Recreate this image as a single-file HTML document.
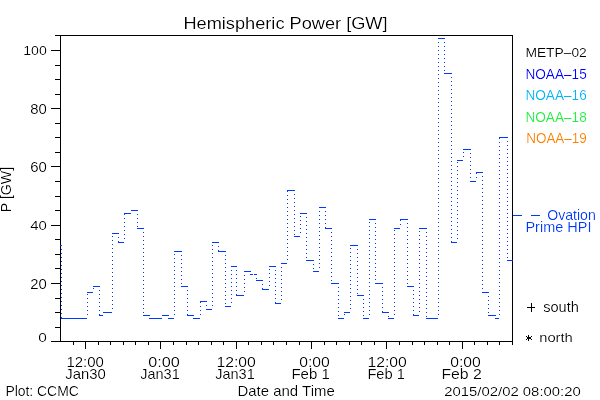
<!DOCTYPE html>
<html><head><meta charset="utf-8"><style>
html,body{margin:0;padding:0;background:#fff;}
svg{display:block;}
text{font-family:"Liberation Sans",sans-serif;}
</style></head><body>
<svg width="600" height="400" viewBox="0 0 600 400">
<rect x="0" y="0" width="600" height="400" fill="#fff"/>
<g fill="#000" shape-rendering="crispEdges"><rect x="60" y="35" width="453" height="1"/><rect x="60" y="341" width="453" height="1"/><rect x="60" y="35" width="1" height="307"/><rect x="512" y="35" width="1" height="307"/><rect x="51" y="341" width="9" height="1"/><rect x="55" y="327" width="5" height="1"/><rect x="55" y="312" width="5" height="1"/><rect x="55" y="298" width="5" height="1"/><rect x="51" y="283" width="9" height="1"/><rect x="55" y="268" width="5" height="1"/><rect x="55" y="254" width="5" height="1"/><rect x="55" y="239" width="5" height="1"/><rect x="51" y="225" width="9" height="1"/><rect x="55" y="210" width="5" height="1"/><rect x="55" y="196" width="5" height="1"/><rect x="55" y="181" width="5" height="1"/><rect x="51" y="166" width="9" height="1"/><rect x="55" y="152" width="5" height="1"/><rect x="55" y="137" width="5" height="1"/><rect x="55" y="123" width="5" height="1"/><rect x="51" y="108" width="9" height="1"/><rect x="55" y="94" width="5" height="1"/><rect x="55" y="79" width="5" height="1"/><rect x="55" y="65" width="5" height="1"/><rect x="51" y="50" width="9" height="1"/><rect x="55" y="35" width="5" height="1"/><rect x="73" y="342" width="1" height="3"/><rect x="85" y="342" width="1" height="7"/><rect x="98" y="342" width="1" height="3"/><rect x="110" y="342" width="1" height="3"/><rect x="123" y="342" width="1" height="3"/><rect x="135" y="342" width="1" height="3"/><rect x="148" y="342" width="1" height="3"/><rect x="160" y="342" width="1" height="7"/><rect x="173" y="342" width="1" height="3"/><rect x="186" y="342" width="1" height="3"/><rect x="198" y="342" width="1" height="3"/><rect x="211" y="342" width="1" height="3"/><rect x="223" y="342" width="1" height="3"/><rect x="236" y="342" width="1" height="7"/><rect x="248" y="342" width="1" height="3"/><rect x="261" y="342" width="1" height="3"/><rect x="273" y="342" width="1" height="3"/><rect x="286" y="342" width="1" height="3"/><rect x="299" y="342" width="1" height="3"/><rect x="311" y="342" width="1" height="7"/><rect x="324" y="342" width="1" height="3"/><rect x="336" y="342" width="1" height="3"/><rect x="349" y="342" width="1" height="3"/><rect x="361" y="342" width="1" height="3"/><rect x="374" y="342" width="1" height="3"/><rect x="386" y="342" width="1" height="7"/><rect x="399" y="342" width="1" height="3"/><rect x="412" y="342" width="1" height="3"/><rect x="424" y="342" width="1" height="3"/><rect x="437" y="342" width="1" height="3"/><rect x="449" y="342" width="1" height="3"/><rect x="462" y="342" width="1" height="7"/><rect x="474" y="342" width="1" height="3"/><rect x="487" y="342" width="1" height="3"/><rect x="499" y="342" width="1" height="3"/><rect x="512" y="342" width="1" height="3"/></g>
<g fill="#0038ff" shape-rendering="crispEdges"><rect x="60" y="245" width="1" height="1"/><rect x="61" y="245" width="1" height="1"/><rect x="61" y="249" width="1" height="1"/><rect x="61" y="253" width="1" height="1"/><rect x="61" y="257" width="1" height="1"/><rect x="61" y="261" width="1" height="1"/><rect x="61" y="265" width="1" height="1"/><rect x="61" y="269" width="1" height="1"/><rect x="61" y="273" width="1" height="1"/><rect x="61" y="277" width="1" height="1"/><rect x="61" y="281" width="1" height="1"/><rect x="61" y="285" width="1" height="1"/><rect x="61" y="289" width="1" height="1"/><rect x="61" y="293" width="1" height="1"/><rect x="61" y="297" width="1" height="1"/><rect x="61" y="301" width="1" height="1"/><rect x="61" y="305" width="1" height="1"/><rect x="61" y="309" width="1" height="1"/><rect x="61" y="313" width="1" height="1"/><rect x="61" y="317" width="1" height="1"/><rect x="61" y="318" width="26" height="1"/><rect x="87" y="314" width="1" height="1"/><rect x="87" y="310" width="1" height="1"/><rect x="87" y="306" width="1" height="1"/><rect x="87" y="302" width="1" height="1"/><rect x="87" y="298" width="1" height="1"/><rect x="87" y="294" width="1" height="1"/><rect x="87" y="292" width="6" height="1"/><rect x="93" y="288" width="1" height="1"/><rect x="93" y="286" width="6" height="1"/><rect x="99" y="286" width="1" height="1"/><rect x="99" y="290" width="1" height="1"/><rect x="99" y="294" width="1" height="1"/><rect x="99" y="298" width="1" height="1"/><rect x="99" y="302" width="1" height="1"/><rect x="99" y="306" width="1" height="1"/><rect x="99" y="310" width="1" height="1"/><rect x="99" y="314" width="1" height="1"/><rect x="99" y="315" width="4" height="1"/><rect x="103" y="312" width="9" height="1"/><rect x="112" y="308" width="1" height="1"/><rect x="112" y="304" width="1" height="1"/><rect x="112" y="300" width="1" height="1"/><rect x="112" y="296" width="1" height="1"/><rect x="112" y="292" width="1" height="1"/><rect x="112" y="288" width="1" height="1"/><rect x="112" y="284" width="1" height="1"/><rect x="112" y="280" width="1" height="1"/><rect x="112" y="276" width="1" height="1"/><rect x="112" y="272" width="1" height="1"/><rect x="112" y="268" width="1" height="1"/><rect x="112" y="264" width="1" height="1"/><rect x="112" y="260" width="1" height="1"/><rect x="112" y="256" width="1" height="1"/><rect x="112" y="252" width="1" height="1"/><rect x="112" y="248" width="1" height="1"/><rect x="112" y="244" width="1" height="1"/><rect x="112" y="240" width="1" height="1"/><rect x="112" y="236" width="1" height="1"/><rect x="112" y="233" width="6" height="1"/><rect x="118" y="233" width="1" height="1"/><rect x="118" y="237" width="1" height="1"/><rect x="118" y="241" width="1" height="1"/><rect x="118" y="242" width="6" height="1"/><rect x="124" y="238" width="1" height="1"/><rect x="124" y="234" width="1" height="1"/><rect x="124" y="230" width="1" height="1"/><rect x="124" y="226" width="1" height="1"/><rect x="124" y="222" width="1" height="1"/><rect x="124" y="218" width="1" height="1"/><rect x="124" y="214" width="1" height="1"/><rect x="124" y="213" width="7" height="1"/><rect x="131" y="210" width="6" height="1"/><rect x="137" y="210" width="1" height="1"/><rect x="137" y="214" width="1" height="1"/><rect x="137" y="218" width="1" height="1"/><rect x="137" y="222" width="1" height="1"/><rect x="137" y="226" width="1" height="1"/><rect x="137" y="228" width="6" height="1"/><rect x="143" y="228" width="1" height="1"/><rect x="143" y="232" width="1" height="1"/><rect x="143" y="236" width="1" height="1"/><rect x="143" y="240" width="1" height="1"/><rect x="143" y="244" width="1" height="1"/><rect x="143" y="248" width="1" height="1"/><rect x="143" y="252" width="1" height="1"/><rect x="143" y="256" width="1" height="1"/><rect x="143" y="260" width="1" height="1"/><rect x="143" y="264" width="1" height="1"/><rect x="143" y="268" width="1" height="1"/><rect x="143" y="272" width="1" height="1"/><rect x="143" y="276" width="1" height="1"/><rect x="143" y="280" width="1" height="1"/><rect x="143" y="284" width="1" height="1"/><rect x="143" y="288" width="1" height="1"/><rect x="143" y="292" width="1" height="1"/><rect x="143" y="296" width="1" height="1"/><rect x="143" y="300" width="1" height="1"/><rect x="143" y="304" width="1" height="1"/><rect x="143" y="308" width="1" height="1"/><rect x="143" y="312" width="1" height="1"/><rect x="143" y="315" width="6" height="1"/><rect x="149" y="315" width="1" height="1"/><rect x="149" y="318" width="13" height="1"/><rect x="162" y="315" width="6" height="1"/><rect x="168" y="315" width="1" height="1"/><rect x="168" y="318" width="6" height="1"/><rect x="174" y="314" width="1" height="1"/><rect x="174" y="310" width="1" height="1"/><rect x="174" y="306" width="1" height="1"/><rect x="174" y="302" width="1" height="1"/><rect x="174" y="298" width="1" height="1"/><rect x="174" y="294" width="1" height="1"/><rect x="174" y="290" width="1" height="1"/><rect x="174" y="286" width="1" height="1"/><rect x="174" y="282" width="1" height="1"/><rect x="174" y="278" width="1" height="1"/><rect x="174" y="274" width="1" height="1"/><rect x="174" y="270" width="1" height="1"/><rect x="174" y="266" width="1" height="1"/><rect x="174" y="262" width="1" height="1"/><rect x="174" y="258" width="1" height="1"/><rect x="174" y="254" width="1" height="1"/><rect x="174" y="251" width="7" height="1"/><rect x="181" y="251" width="1" height="1"/><rect x="181" y="255" width="1" height="1"/><rect x="181" y="259" width="1" height="1"/><rect x="181" y="263" width="1" height="1"/><rect x="181" y="267" width="1" height="1"/><rect x="181" y="271" width="1" height="1"/><rect x="181" y="275" width="1" height="1"/><rect x="181" y="279" width="1" height="1"/><rect x="181" y="283" width="1" height="1"/><rect x="181" y="286" width="6" height="1"/><rect x="187" y="286" width="1" height="1"/><rect x="187" y="290" width="1" height="1"/><rect x="187" y="294" width="1" height="1"/><rect x="187" y="298" width="1" height="1"/><rect x="187" y="302" width="1" height="1"/><rect x="187" y="306" width="1" height="1"/><rect x="187" y="310" width="1" height="1"/><rect x="187" y="314" width="1" height="1"/><rect x="187" y="315" width="6" height="1"/><rect x="193" y="315" width="1" height="1"/><rect x="193" y="318" width="7" height="1"/><rect x="200" y="314" width="1" height="1"/><rect x="200" y="310" width="1" height="1"/><rect x="200" y="306" width="1" height="1"/><rect x="200" y="302" width="1" height="1"/><rect x="200" y="301" width="6" height="1"/><rect x="206" y="301" width="1" height="1"/><rect x="206" y="305" width="1" height="1"/><rect x="206" y="309" width="6" height="1"/><rect x="212" y="305" width="1" height="1"/><rect x="212" y="301" width="1" height="1"/><rect x="212" y="297" width="1" height="1"/><rect x="212" y="293" width="1" height="1"/><rect x="212" y="289" width="1" height="1"/><rect x="212" y="285" width="1" height="1"/><rect x="212" y="281" width="1" height="1"/><rect x="212" y="277" width="1" height="1"/><rect x="212" y="273" width="1" height="1"/><rect x="212" y="269" width="1" height="1"/><rect x="212" y="265" width="1" height="1"/><rect x="212" y="261" width="1" height="1"/><rect x="212" y="257" width="1" height="1"/><rect x="212" y="253" width="1" height="1"/><rect x="212" y="249" width="1" height="1"/><rect x="212" y="245" width="1" height="1"/><rect x="212" y="242" width="6" height="1"/><rect x="218" y="242" width="1" height="1"/><rect x="218" y="246" width="1" height="1"/><rect x="218" y="250" width="1" height="1"/><rect x="218" y="251" width="7" height="1"/><rect x="225" y="251" width="1" height="1"/><rect x="225" y="255" width="1" height="1"/><rect x="225" y="259" width="1" height="1"/><rect x="225" y="263" width="1" height="1"/><rect x="225" y="267" width="1" height="1"/><rect x="225" y="271" width="1" height="1"/><rect x="225" y="275" width="1" height="1"/><rect x="225" y="279" width="1" height="1"/><rect x="225" y="283" width="1" height="1"/><rect x="225" y="287" width="1" height="1"/><rect x="225" y="291" width="1" height="1"/><rect x="225" y="295" width="1" height="1"/><rect x="225" y="299" width="1" height="1"/><rect x="225" y="303" width="1" height="1"/><rect x="225" y="306" width="6" height="1"/><rect x="231" y="302" width="1" height="1"/><rect x="231" y="298" width="1" height="1"/><rect x="231" y="294" width="1" height="1"/><rect x="231" y="290" width="1" height="1"/><rect x="231" y="286" width="1" height="1"/><rect x="231" y="282" width="1" height="1"/><rect x="231" y="278" width="1" height="1"/><rect x="231" y="274" width="1" height="1"/><rect x="231" y="270" width="1" height="1"/><rect x="231" y="266" width="5" height="1"/><rect x="236" y="266" width="1" height="1"/><rect x="236" y="270" width="1" height="1"/><rect x="236" y="274" width="1" height="1"/><rect x="236" y="278" width="1" height="1"/><rect x="236" y="282" width="1" height="1"/><rect x="236" y="286" width="1" height="1"/><rect x="236" y="290" width="1" height="1"/><rect x="236" y="294" width="1" height="1"/><rect x="236" y="295" width="8" height="1"/><rect x="244" y="291" width="1" height="1"/><rect x="244" y="287" width="1" height="1"/><rect x="244" y="283" width="1" height="1"/><rect x="244" y="279" width="1" height="1"/><rect x="244" y="275" width="1" height="1"/><rect x="244" y="271" width="6" height="1"/><rect x="250" y="271" width="1" height="1"/><rect x="250" y="274" width="6" height="1"/><rect x="256" y="274" width="1" height="1"/><rect x="256" y="278" width="1" height="1"/><rect x="256" y="280" width="6" height="1"/><rect x="262" y="280" width="1" height="1"/><rect x="262" y="284" width="1" height="1"/><rect x="262" y="288" width="1" height="1"/><rect x="262" y="289" width="7" height="1"/><rect x="269" y="285" width="1" height="1"/><rect x="269" y="281" width="1" height="1"/><rect x="269" y="277" width="1" height="1"/><rect x="269" y="273" width="1" height="1"/><rect x="269" y="269" width="1" height="1"/><rect x="269" y="266" width="6" height="1"/><rect x="275" y="266" width="1" height="1"/><rect x="275" y="270" width="1" height="1"/><rect x="275" y="274" width="1" height="1"/><rect x="275" y="278" width="1" height="1"/><rect x="275" y="282" width="1" height="1"/><rect x="275" y="286" width="1" height="1"/><rect x="275" y="290" width="1" height="1"/><rect x="275" y="294" width="1" height="1"/><rect x="275" y="298" width="1" height="1"/><rect x="275" y="302" width="1" height="1"/><rect x="275" y="303" width="6" height="1"/><rect x="281" y="299" width="1" height="1"/><rect x="281" y="295" width="1" height="1"/><rect x="281" y="291" width="1" height="1"/><rect x="281" y="287" width="1" height="1"/><rect x="281" y="283" width="1" height="1"/><rect x="281" y="279" width="1" height="1"/><rect x="281" y="275" width="1" height="1"/><rect x="281" y="271" width="1" height="1"/><rect x="281" y="267" width="1" height="1"/><rect x="281" y="263" width="6" height="1"/><rect x="287" y="259" width="1" height="1"/><rect x="287" y="255" width="1" height="1"/><rect x="287" y="251" width="1" height="1"/><rect x="287" y="247" width="1" height="1"/><rect x="287" y="243" width="1" height="1"/><rect x="287" y="239" width="1" height="1"/><rect x="287" y="235" width="1" height="1"/><rect x="287" y="231" width="1" height="1"/><rect x="287" y="227" width="1" height="1"/><rect x="287" y="223" width="1" height="1"/><rect x="287" y="219" width="1" height="1"/><rect x="287" y="215" width="1" height="1"/><rect x="287" y="211" width="1" height="1"/><rect x="287" y="207" width="1" height="1"/><rect x="287" y="203" width="1" height="1"/><rect x="287" y="199" width="1" height="1"/><rect x="287" y="195" width="1" height="1"/><rect x="287" y="191" width="1" height="1"/><rect x="287" y="190" width="7" height="1"/><rect x="294" y="190" width="1" height="1"/><rect x="294" y="194" width="1" height="1"/><rect x="294" y="198" width="1" height="1"/><rect x="294" y="202" width="1" height="1"/><rect x="294" y="206" width="1" height="1"/><rect x="294" y="210" width="1" height="1"/><rect x="294" y="214" width="1" height="1"/><rect x="294" y="218" width="1" height="1"/><rect x="294" y="222" width="1" height="1"/><rect x="294" y="226" width="1" height="1"/><rect x="294" y="230" width="1" height="1"/><rect x="294" y="234" width="1" height="1"/><rect x="294" y="236" width="6" height="1"/><rect x="300" y="232" width="1" height="1"/><rect x="300" y="228" width="1" height="1"/><rect x="300" y="224" width="1" height="1"/><rect x="300" y="220" width="1" height="1"/><rect x="300" y="216" width="1" height="1"/><rect x="300" y="213" width="6" height="1"/><rect x="306" y="213" width="1" height="1"/><rect x="306" y="217" width="1" height="1"/><rect x="306" y="221" width="1" height="1"/><rect x="306" y="225" width="1" height="1"/><rect x="306" y="229" width="1" height="1"/><rect x="306" y="233" width="1" height="1"/><rect x="306" y="237" width="1" height="1"/><rect x="306" y="241" width="1" height="1"/><rect x="306" y="245" width="1" height="1"/><rect x="306" y="249" width="1" height="1"/><rect x="306" y="253" width="1" height="1"/><rect x="306" y="257" width="1" height="1"/><rect x="306" y="260" width="7" height="1"/><rect x="313" y="260" width="1" height="1"/><rect x="313" y="264" width="1" height="1"/><rect x="313" y="268" width="1" height="1"/><rect x="313" y="271" width="6" height="1"/><rect x="319" y="267" width="1" height="1"/><rect x="319" y="263" width="1" height="1"/><rect x="319" y="259" width="1" height="1"/><rect x="319" y="255" width="1" height="1"/><rect x="319" y="251" width="1" height="1"/><rect x="319" y="247" width="1" height="1"/><rect x="319" y="243" width="1" height="1"/><rect x="319" y="239" width="1" height="1"/><rect x="319" y="235" width="1" height="1"/><rect x="319" y="231" width="1" height="1"/><rect x="319" y="227" width="1" height="1"/><rect x="319" y="223" width="1" height="1"/><rect x="319" y="219" width="1" height="1"/><rect x="319" y="215" width="1" height="1"/><rect x="319" y="211" width="1" height="1"/><rect x="319" y="207" width="6" height="1"/><rect x="325" y="207" width="1" height="1"/><rect x="325" y="211" width="1" height="1"/><rect x="325" y="215" width="1" height="1"/><rect x="325" y="219" width="1" height="1"/><rect x="325" y="223" width="1" height="1"/><rect x="325" y="227" width="1" height="1"/><rect x="325" y="228" width="6" height="1"/><rect x="331" y="228" width="1" height="1"/><rect x="331" y="232" width="1" height="1"/><rect x="331" y="236" width="1" height="1"/><rect x="331" y="240" width="1" height="1"/><rect x="331" y="244" width="1" height="1"/><rect x="331" y="248" width="1" height="1"/><rect x="331" y="252" width="1" height="1"/><rect x="331" y="256" width="1" height="1"/><rect x="331" y="260" width="1" height="1"/><rect x="331" y="264" width="1" height="1"/><rect x="331" y="268" width="1" height="1"/><rect x="331" y="272" width="1" height="1"/><rect x="331" y="276" width="1" height="1"/><rect x="331" y="280" width="1" height="1"/><rect x="331" y="283" width="7" height="1"/><rect x="338" y="283" width="1" height="1"/><rect x="338" y="287" width="1" height="1"/><rect x="338" y="291" width="1" height="1"/><rect x="338" y="295" width="1" height="1"/><rect x="338" y="299" width="1" height="1"/><rect x="338" y="303" width="1" height="1"/><rect x="338" y="307" width="1" height="1"/><rect x="338" y="311" width="1" height="1"/><rect x="338" y="315" width="1" height="1"/><rect x="338" y="318" width="6" height="1"/><rect x="344" y="314" width="1" height="1"/><rect x="344" y="312" width="6" height="1"/><rect x="350" y="308" width="1" height="1"/><rect x="350" y="304" width="1" height="1"/><rect x="350" y="300" width="1" height="1"/><rect x="350" y="296" width="1" height="1"/><rect x="350" y="292" width="1" height="1"/><rect x="350" y="288" width="1" height="1"/><rect x="350" y="284" width="1" height="1"/><rect x="350" y="280" width="1" height="1"/><rect x="350" y="276" width="1" height="1"/><rect x="350" y="272" width="1" height="1"/><rect x="350" y="268" width="1" height="1"/><rect x="350" y="264" width="1" height="1"/><rect x="350" y="260" width="1" height="1"/><rect x="350" y="256" width="1" height="1"/><rect x="350" y="252" width="1" height="1"/><rect x="350" y="248" width="1" height="1"/><rect x="350" y="245" width="7" height="1"/><rect x="357" y="245" width="1" height="1"/><rect x="357" y="249" width="1" height="1"/><rect x="357" y="253" width="1" height="1"/><rect x="357" y="257" width="1" height="1"/><rect x="357" y="261" width="1" height="1"/><rect x="357" y="265" width="1" height="1"/><rect x="357" y="269" width="1" height="1"/><rect x="357" y="273" width="1" height="1"/><rect x="357" y="277" width="1" height="1"/><rect x="357" y="281" width="1" height="1"/><rect x="357" y="285" width="1" height="1"/><rect x="357" y="289" width="1" height="1"/><rect x="357" y="293" width="1" height="1"/><rect x="357" y="295" width="6" height="1"/><rect x="363" y="295" width="1" height="1"/><rect x="363" y="299" width="1" height="1"/><rect x="363" y="303" width="1" height="1"/><rect x="363" y="307" width="1" height="1"/><rect x="363" y="311" width="1" height="1"/><rect x="363" y="315" width="1" height="1"/><rect x="363" y="318" width="6" height="1"/><rect x="369" y="314" width="1" height="1"/><rect x="369" y="310" width="1" height="1"/><rect x="369" y="306" width="1" height="1"/><rect x="369" y="302" width="1" height="1"/><rect x="369" y="298" width="1" height="1"/><rect x="369" y="294" width="1" height="1"/><rect x="369" y="290" width="1" height="1"/><rect x="369" y="286" width="1" height="1"/><rect x="369" y="282" width="1" height="1"/><rect x="369" y="278" width="1" height="1"/><rect x="369" y="274" width="1" height="1"/><rect x="369" y="270" width="1" height="1"/><rect x="369" y="266" width="1" height="1"/><rect x="369" y="262" width="1" height="1"/><rect x="369" y="258" width="1" height="1"/><rect x="369" y="254" width="1" height="1"/><rect x="369" y="250" width="1" height="1"/><rect x="369" y="246" width="1" height="1"/><rect x="369" y="242" width="1" height="1"/><rect x="369" y="238" width="1" height="1"/><rect x="369" y="234" width="1" height="1"/><rect x="369" y="230" width="1" height="1"/><rect x="369" y="226" width="1" height="1"/><rect x="369" y="222" width="1" height="1"/><rect x="369" y="219" width="6" height="1"/><rect x="375" y="219" width="1" height="1"/><rect x="375" y="223" width="1" height="1"/><rect x="375" y="227" width="1" height="1"/><rect x="375" y="231" width="1" height="1"/><rect x="375" y="235" width="1" height="1"/><rect x="375" y="239" width="1" height="1"/><rect x="375" y="243" width="1" height="1"/><rect x="375" y="247" width="1" height="1"/><rect x="375" y="251" width="1" height="1"/><rect x="375" y="255" width="1" height="1"/><rect x="375" y="259" width="1" height="1"/><rect x="375" y="263" width="1" height="1"/><rect x="375" y="267" width="1" height="1"/><rect x="375" y="271" width="1" height="1"/><rect x="375" y="275" width="1" height="1"/><rect x="375" y="279" width="1" height="1"/><rect x="375" y="283" width="7" height="1"/><rect x="382" y="283" width="1" height="1"/><rect x="382" y="287" width="1" height="1"/><rect x="382" y="291" width="1" height="1"/><rect x="382" y="295" width="1" height="1"/><rect x="382" y="299" width="1" height="1"/><rect x="382" y="303" width="1" height="1"/><rect x="382" y="307" width="1" height="1"/><rect x="382" y="311" width="1" height="1"/><rect x="382" y="312" width="6" height="1"/><rect x="388" y="312" width="1" height="1"/><rect x="388" y="316" width="1" height="1"/><rect x="388" y="318" width="6" height="1"/><rect x="394" y="314" width="1" height="1"/><rect x="394" y="310" width="1" height="1"/><rect x="394" y="306" width="1" height="1"/><rect x="394" y="302" width="1" height="1"/><rect x="394" y="298" width="1" height="1"/><rect x="394" y="294" width="1" height="1"/><rect x="394" y="290" width="1" height="1"/><rect x="394" y="286" width="1" height="1"/><rect x="394" y="282" width="1" height="1"/><rect x="394" y="278" width="1" height="1"/><rect x="394" y="274" width="1" height="1"/><rect x="394" y="270" width="1" height="1"/><rect x="394" y="266" width="1" height="1"/><rect x="394" y="262" width="1" height="1"/><rect x="394" y="258" width="1" height="1"/><rect x="394" y="254" width="1" height="1"/><rect x="394" y="250" width="1" height="1"/><rect x="394" y="246" width="1" height="1"/><rect x="394" y="242" width="1" height="1"/><rect x="394" y="238" width="1" height="1"/><rect x="394" y="234" width="1" height="1"/><rect x="394" y="230" width="1" height="1"/><rect x="394" y="228" width="6" height="1"/><rect x="400" y="224" width="1" height="1"/><rect x="400" y="220" width="1" height="1"/><rect x="400" y="219" width="7" height="1"/><rect x="407" y="219" width="1" height="1"/><rect x="407" y="223" width="1" height="1"/><rect x="407" y="227" width="1" height="1"/><rect x="407" y="231" width="1" height="1"/><rect x="407" y="235" width="1" height="1"/><rect x="407" y="239" width="1" height="1"/><rect x="407" y="243" width="1" height="1"/><rect x="407" y="247" width="1" height="1"/><rect x="407" y="251" width="1" height="1"/><rect x="407" y="255" width="1" height="1"/><rect x="407" y="259" width="1" height="1"/><rect x="407" y="263" width="1" height="1"/><rect x="407" y="267" width="1" height="1"/><rect x="407" y="271" width="1" height="1"/><rect x="407" y="275" width="1" height="1"/><rect x="407" y="279" width="1" height="1"/><rect x="407" y="283" width="1" height="1"/><rect x="407" y="286" width="6" height="1"/><rect x="413" y="286" width="1" height="1"/><rect x="413" y="290" width="1" height="1"/><rect x="413" y="294" width="1" height="1"/><rect x="413" y="298" width="1" height="1"/><rect x="413" y="302" width="1" height="1"/><rect x="413" y="306" width="1" height="1"/><rect x="413" y="310" width="1" height="1"/><rect x="413" y="314" width="1" height="1"/><rect x="413" y="315" width="6" height="1"/><rect x="419" y="311" width="1" height="1"/><rect x="419" y="307" width="1" height="1"/><rect x="419" y="303" width="1" height="1"/><rect x="419" y="299" width="1" height="1"/><rect x="419" y="295" width="1" height="1"/><rect x="419" y="291" width="1" height="1"/><rect x="419" y="287" width="1" height="1"/><rect x="419" y="283" width="1" height="1"/><rect x="419" y="279" width="1" height="1"/><rect x="419" y="275" width="1" height="1"/><rect x="419" y="271" width="1" height="1"/><rect x="419" y="267" width="1" height="1"/><rect x="419" y="263" width="1" height="1"/><rect x="419" y="259" width="1" height="1"/><rect x="419" y="255" width="1" height="1"/><rect x="419" y="251" width="1" height="1"/><rect x="419" y="247" width="1" height="1"/><rect x="419" y="243" width="1" height="1"/><rect x="419" y="239" width="1" height="1"/><rect x="419" y="235" width="1" height="1"/><rect x="419" y="231" width="1" height="1"/><rect x="419" y="228" width="7" height="1"/><rect x="426" y="228" width="1" height="1"/><rect x="426" y="232" width="1" height="1"/><rect x="426" y="236" width="1" height="1"/><rect x="426" y="240" width="1" height="1"/><rect x="426" y="244" width="1" height="1"/><rect x="426" y="248" width="1" height="1"/><rect x="426" y="252" width="1" height="1"/><rect x="426" y="256" width="1" height="1"/><rect x="426" y="260" width="1" height="1"/><rect x="426" y="264" width="1" height="1"/><rect x="426" y="268" width="1" height="1"/><rect x="426" y="272" width="1" height="1"/><rect x="426" y="276" width="1" height="1"/><rect x="426" y="280" width="1" height="1"/><rect x="426" y="284" width="1" height="1"/><rect x="426" y="288" width="1" height="1"/><rect x="426" y="292" width="1" height="1"/><rect x="426" y="296" width="1" height="1"/><rect x="426" y="300" width="1" height="1"/><rect x="426" y="304" width="1" height="1"/><rect x="426" y="308" width="1" height="1"/><rect x="426" y="312" width="1" height="1"/><rect x="426" y="316" width="1" height="1"/><rect x="426" y="318" width="12" height="1"/><rect x="438" y="314" width="1" height="1"/><rect x="438" y="310" width="1" height="1"/><rect x="438" y="306" width="1" height="1"/><rect x="438" y="302" width="1" height="1"/><rect x="438" y="298" width="1" height="1"/><rect x="438" y="294" width="1" height="1"/><rect x="438" y="290" width="1" height="1"/><rect x="438" y="286" width="1" height="1"/><rect x="438" y="282" width="1" height="1"/><rect x="438" y="278" width="1" height="1"/><rect x="438" y="274" width="1" height="1"/><rect x="438" y="270" width="1" height="1"/><rect x="438" y="266" width="1" height="1"/><rect x="438" y="262" width="1" height="1"/><rect x="438" y="258" width="1" height="1"/><rect x="438" y="254" width="1" height="1"/><rect x="438" y="250" width="1" height="1"/><rect x="438" y="246" width="1" height="1"/><rect x="438" y="242" width="1" height="1"/><rect x="438" y="238" width="1" height="1"/><rect x="438" y="234" width="1" height="1"/><rect x="438" y="230" width="1" height="1"/><rect x="438" y="226" width="1" height="1"/><rect x="438" y="222" width="1" height="1"/><rect x="438" y="218" width="1" height="1"/><rect x="438" y="214" width="1" height="1"/><rect x="438" y="210" width="1" height="1"/><rect x="438" y="206" width="1" height="1"/><rect x="438" y="202" width="1" height="1"/><rect x="438" y="198" width="1" height="1"/><rect x="438" y="194" width="1" height="1"/><rect x="438" y="190" width="1" height="1"/><rect x="438" y="186" width="1" height="1"/><rect x="438" y="182" width="1" height="1"/><rect x="438" y="178" width="1" height="1"/><rect x="438" y="174" width="1" height="1"/><rect x="438" y="170" width="1" height="1"/><rect x="438" y="166" width="1" height="1"/><rect x="438" y="162" width="1" height="1"/><rect x="438" y="158" width="1" height="1"/><rect x="438" y="154" width="1" height="1"/><rect x="438" y="150" width="1" height="1"/><rect x="438" y="146" width="1" height="1"/><rect x="438" y="142" width="1" height="1"/><rect x="438" y="138" width="1" height="1"/><rect x="438" y="134" width="1" height="1"/><rect x="438" y="130" width="1" height="1"/><rect x="438" y="126" width="1" height="1"/><rect x="438" y="122" width="1" height="1"/><rect x="438" y="118" width="1" height="1"/><rect x="438" y="114" width="1" height="1"/><rect x="438" y="110" width="1" height="1"/><rect x="438" y="106" width="1" height="1"/><rect x="438" y="102" width="1" height="1"/><rect x="438" y="98" width="1" height="1"/><rect x="438" y="94" width="1" height="1"/><rect x="438" y="90" width="1" height="1"/><rect x="438" y="86" width="1" height="1"/><rect x="438" y="82" width="1" height="1"/><rect x="438" y="78" width="1" height="1"/><rect x="438" y="74" width="1" height="1"/><rect x="438" y="70" width="1" height="1"/><rect x="438" y="66" width="1" height="1"/><rect x="438" y="62" width="1" height="1"/><rect x="438" y="58" width="1" height="1"/><rect x="438" y="54" width="1" height="1"/><rect x="438" y="50" width="1" height="1"/><rect x="438" y="46" width="1" height="1"/><rect x="438" y="42" width="1" height="1"/><rect x="438" y="38" width="6" height="1"/><rect x="444" y="38" width="1" height="1"/><rect x="444" y="42" width="1" height="1"/><rect x="444" y="46" width="1" height="1"/><rect x="444" y="50" width="1" height="1"/><rect x="444" y="54" width="1" height="1"/><rect x="444" y="58" width="1" height="1"/><rect x="444" y="62" width="1" height="1"/><rect x="444" y="66" width="1" height="1"/><rect x="444" y="70" width="1" height="1"/><rect x="444" y="73" width="7" height="1"/><rect x="451" y="73" width="1" height="1"/><rect x="451" y="77" width="1" height="1"/><rect x="451" y="81" width="1" height="1"/><rect x="451" y="85" width="1" height="1"/><rect x="451" y="89" width="1" height="1"/><rect x="451" y="93" width="1" height="1"/><rect x="451" y="97" width="1" height="1"/><rect x="451" y="101" width="1" height="1"/><rect x="451" y="105" width="1" height="1"/><rect x="451" y="109" width="1" height="1"/><rect x="451" y="113" width="1" height="1"/><rect x="451" y="117" width="1" height="1"/><rect x="451" y="121" width="1" height="1"/><rect x="451" y="125" width="1" height="1"/><rect x="451" y="129" width="1" height="1"/><rect x="451" y="133" width="1" height="1"/><rect x="451" y="137" width="1" height="1"/><rect x="451" y="141" width="1" height="1"/><rect x="451" y="145" width="1" height="1"/><rect x="451" y="149" width="1" height="1"/><rect x="451" y="153" width="1" height="1"/><rect x="451" y="157" width="1" height="1"/><rect x="451" y="161" width="1" height="1"/><rect x="451" y="165" width="1" height="1"/><rect x="451" y="169" width="1" height="1"/><rect x="451" y="173" width="1" height="1"/><rect x="451" y="177" width="1" height="1"/><rect x="451" y="181" width="1" height="1"/><rect x="451" y="185" width="1" height="1"/><rect x="451" y="189" width="1" height="1"/><rect x="451" y="193" width="1" height="1"/><rect x="451" y="197" width="1" height="1"/><rect x="451" y="201" width="1" height="1"/><rect x="451" y="205" width="1" height="1"/><rect x="451" y="209" width="1" height="1"/><rect x="451" y="213" width="1" height="1"/><rect x="451" y="217" width="1" height="1"/><rect x="451" y="221" width="1" height="1"/><rect x="451" y="225" width="1" height="1"/><rect x="451" y="229" width="1" height="1"/><rect x="451" y="233" width="1" height="1"/><rect x="451" y="237" width="1" height="1"/><rect x="451" y="241" width="1" height="1"/><rect x="451" y="242" width="6" height="1"/><rect x="457" y="238" width="1" height="1"/><rect x="457" y="234" width="1" height="1"/><rect x="457" y="230" width="1" height="1"/><rect x="457" y="226" width="1" height="1"/><rect x="457" y="222" width="1" height="1"/><rect x="457" y="218" width="1" height="1"/><rect x="457" y="214" width="1" height="1"/><rect x="457" y="210" width="1" height="1"/><rect x="457" y="206" width="1" height="1"/><rect x="457" y="202" width="1" height="1"/><rect x="457" y="198" width="1" height="1"/><rect x="457" y="194" width="1" height="1"/><rect x="457" y="190" width="1" height="1"/><rect x="457" y="186" width="1" height="1"/><rect x="457" y="182" width="1" height="1"/><rect x="457" y="178" width="1" height="1"/><rect x="457" y="174" width="1" height="1"/><rect x="457" y="170" width="1" height="1"/><rect x="457" y="166" width="1" height="1"/><rect x="457" y="162" width="1" height="1"/><rect x="457" y="160" width="6" height="1"/><rect x="463" y="156" width="1" height="1"/><rect x="463" y="152" width="1" height="1"/><rect x="463" y="149" width="7" height="1"/><rect x="470" y="149" width="1" height="1"/><rect x="470" y="153" width="1" height="1"/><rect x="470" y="157" width="1" height="1"/><rect x="470" y="161" width="1" height="1"/><rect x="470" y="165" width="1" height="1"/><rect x="470" y="169" width="1" height="1"/><rect x="470" y="173" width="1" height="1"/><rect x="470" y="177" width="1" height="1"/><rect x="470" y="181" width="6" height="1"/><rect x="476" y="177" width="1" height="1"/><rect x="476" y="173" width="1" height="1"/><rect x="476" y="172" width="6" height="1"/><rect x="482" y="172" width="1" height="1"/><rect x="482" y="176" width="1" height="1"/><rect x="482" y="180" width="1" height="1"/><rect x="482" y="184" width="1" height="1"/><rect x="482" y="188" width="1" height="1"/><rect x="482" y="192" width="1" height="1"/><rect x="482" y="196" width="1" height="1"/><rect x="482" y="200" width="1" height="1"/><rect x="482" y="204" width="1" height="1"/><rect x="482" y="208" width="1" height="1"/><rect x="482" y="212" width="1" height="1"/><rect x="482" y="216" width="1" height="1"/><rect x="482" y="220" width="1" height="1"/><rect x="482" y="224" width="1" height="1"/><rect x="482" y="228" width="1" height="1"/><rect x="482" y="232" width="1" height="1"/><rect x="482" y="236" width="1" height="1"/><rect x="482" y="240" width="1" height="1"/><rect x="482" y="244" width="1" height="1"/><rect x="482" y="248" width="1" height="1"/><rect x="482" y="252" width="1" height="1"/><rect x="482" y="256" width="1" height="1"/><rect x="482" y="260" width="1" height="1"/><rect x="482" y="264" width="1" height="1"/><rect x="482" y="268" width="1" height="1"/><rect x="482" y="272" width="1" height="1"/><rect x="482" y="276" width="1" height="1"/><rect x="482" y="280" width="1" height="1"/><rect x="482" y="284" width="1" height="1"/><rect x="482" y="288" width="1" height="1"/><rect x="482" y="292" width="6" height="1"/><rect x="488" y="292" width="1" height="1"/><rect x="488" y="296" width="1" height="1"/><rect x="488" y="300" width="1" height="1"/><rect x="488" y="304" width="1" height="1"/><rect x="488" y="308" width="1" height="1"/><rect x="488" y="312" width="1" height="1"/><rect x="488" y="315" width="7" height="1"/><rect x="495" y="315" width="1" height="1"/><rect x="495" y="318" width="4" height="1"/><rect x="499" y="314" width="1" height="1"/><rect x="499" y="310" width="1" height="1"/><rect x="499" y="306" width="1" height="1"/><rect x="499" y="302" width="1" height="1"/><rect x="499" y="298" width="1" height="1"/><rect x="499" y="294" width="1" height="1"/><rect x="499" y="290" width="1" height="1"/><rect x="499" y="286" width="1" height="1"/><rect x="499" y="282" width="1" height="1"/><rect x="499" y="278" width="1" height="1"/><rect x="499" y="274" width="1" height="1"/><rect x="499" y="270" width="1" height="1"/><rect x="499" y="266" width="1" height="1"/><rect x="499" y="262" width="1" height="1"/><rect x="499" y="258" width="1" height="1"/><rect x="499" y="254" width="1" height="1"/><rect x="499" y="250" width="1" height="1"/><rect x="499" y="246" width="1" height="1"/><rect x="499" y="242" width="1" height="1"/><rect x="499" y="238" width="1" height="1"/><rect x="499" y="234" width="1" height="1"/><rect x="499" y="230" width="1" height="1"/><rect x="499" y="226" width="1" height="1"/><rect x="499" y="222" width="1" height="1"/><rect x="499" y="218" width="1" height="1"/><rect x="499" y="214" width="1" height="1"/><rect x="499" y="210" width="1" height="1"/><rect x="499" y="206" width="1" height="1"/><rect x="499" y="202" width="1" height="1"/><rect x="499" y="198" width="1" height="1"/><rect x="499" y="194" width="1" height="1"/><rect x="499" y="190" width="1" height="1"/><rect x="499" y="186" width="1" height="1"/><rect x="499" y="182" width="1" height="1"/><rect x="499" y="178" width="1" height="1"/><rect x="499" y="174" width="1" height="1"/><rect x="499" y="170" width="1" height="1"/><rect x="499" y="166" width="1" height="1"/><rect x="499" y="162" width="1" height="1"/><rect x="499" y="158" width="1" height="1"/><rect x="499" y="154" width="1" height="1"/><rect x="499" y="150" width="1" height="1"/><rect x="499" y="146" width="1" height="1"/><rect x="499" y="142" width="1" height="1"/><rect x="499" y="138" width="1" height="1"/><rect x="499" y="137" width="8" height="1"/><rect x="507" y="137" width="1" height="1"/><rect x="507" y="141" width="1" height="1"/><rect x="507" y="145" width="1" height="1"/><rect x="507" y="149" width="1" height="1"/><rect x="507" y="153" width="1" height="1"/><rect x="507" y="157" width="1" height="1"/><rect x="507" y="161" width="1" height="1"/><rect x="507" y="165" width="1" height="1"/><rect x="507" y="169" width="1" height="1"/><rect x="507" y="173" width="1" height="1"/><rect x="507" y="177" width="1" height="1"/><rect x="507" y="181" width="1" height="1"/><rect x="507" y="185" width="1" height="1"/><rect x="507" y="189" width="1" height="1"/><rect x="507" y="193" width="1" height="1"/><rect x="507" y="197" width="1" height="1"/><rect x="507" y="201" width="1" height="1"/><rect x="507" y="205" width="1" height="1"/><rect x="507" y="209" width="1" height="1"/><rect x="507" y="213" width="1" height="1"/><rect x="507" y="217" width="1" height="1"/><rect x="507" y="221" width="1" height="1"/><rect x="507" y="225" width="1" height="1"/><rect x="507" y="229" width="1" height="1"/><rect x="507" y="233" width="1" height="1"/><rect x="507" y="237" width="1" height="1"/><rect x="507" y="241" width="1" height="1"/><rect x="507" y="245" width="1" height="1"/><rect x="507" y="249" width="1" height="1"/><rect x="507" y="253" width="1" height="1"/><rect x="507" y="257" width="1" height="1"/><rect x="507" y="260" width="6" height="1"/><rect x="253" y="274" width="1" height="1" fill="#fff"/></g>
<g shape-rendering="crispEdges"><rect x="527" y="307" width="8" height="1" fill="#000"/><rect x="531" y="303" width="1" height="9" fill="#000"/><rect x="528" y="335" width="1" height="6" fill="#000"/><rect x="527" y="337" width="4" height="2" fill="#000"/><rect x="526" y="336" width="1" height="1" fill="#000"/><rect x="531" y="336" width="1" height="1" fill="#000"/><rect x="526" y="339" width="1" height="1" fill="#000"/><rect x="531" y="339" width="1" height="1" fill="#000"/><rect x="513" y="215" width="9" height="1" fill="#0038ff"/><rect x="531" y="215" width="9" height="1" fill="#0038ff"/></g>
<filter id="g" filterUnits="userSpaceOnUse" x="0" y="0" width="600" height="400" color-interpolation-filters="sRGB"><feComponentTransfer><feFuncA type="gamma" exponent="1.5"/></feComponentTransfer></filter><g filter="url(#g)"><text x="183.40" y="29.00" font-size="16.4" fill="#000" textLength="204.20" lengthAdjust="spacingAndGlyphs" xml:space="preserve">Hemispheric Power [GW]</text><text x="23.20" y="55.00" font-size="13.2" fill="#000" textLength="23.60" lengthAdjust="spacingAndGlyphs" xml:space="preserve">100</text><text x="30.20" y="114.00" font-size="14.4" fill="#000" textLength="16.60" lengthAdjust="spacingAndGlyphs" xml:space="preserve">80</text><text x="30.20" y="172.00" font-size="14.4" fill="#000" textLength="16.60" lengthAdjust="spacingAndGlyphs" xml:space="preserve">60</text><text x="30.20" y="230.00" font-size="13.2" fill="#000" textLength="16.60" lengthAdjust="spacingAndGlyphs" xml:space="preserve">40</text><text x="30.20" y="289.00" font-size="14.4" fill="#000" textLength="16.60" lengthAdjust="spacingAndGlyphs" xml:space="preserve">20</text><text x="38.20" y="342.00" font-size="13.2" fill="#000" textLength="8.60" lengthAdjust="spacingAndGlyphs" xml:space="preserve">0</text><text x="66.40" y="367.00" font-size="14.4" fill="#000" textLength="37.40" lengthAdjust="spacingAndGlyphs" xml:space="preserve">12:00</text><text x="65.20" y="379.00" font-size="14.4" fill="#000" textLength="40.60" lengthAdjust="spacingAndGlyphs" xml:space="preserve">Jan30</text><text x="148.20" y="367.00" font-size="14.4" fill="#000" textLength="31.60" lengthAdjust="spacingAndGlyphs" xml:space="preserve">0:00</text><text x="140.20" y="379.00" font-size="14.4" fill="#000" textLength="39.60" lengthAdjust="spacingAndGlyphs" xml:space="preserve">Jan31</text><text x="216.40" y="367.00" font-size="14.4" fill="#000" textLength="39.40" lengthAdjust="spacingAndGlyphs" xml:space="preserve">12:00</text><text x="215.20" y="379.00" font-size="14.4" fill="#000" textLength="39.60" lengthAdjust="spacingAndGlyphs" xml:space="preserve">Jan31</text><text x="299.20" y="367.00" font-size="14.4" fill="#000" textLength="30.60" lengthAdjust="spacingAndGlyphs" xml:space="preserve">0:00</text><text x="291.40" y="379.00" font-size="14.4" fill="#000" textLength="38.40" lengthAdjust="spacingAndGlyphs" xml:space="preserve">Feb 1</text><text x="367.40" y="367.00" font-size="14.4" fill="#000" textLength="39.40" lengthAdjust="spacingAndGlyphs" xml:space="preserve">12:00</text><text x="367.40" y="379.00" font-size="14.4" fill="#000" textLength="37.40" lengthAdjust="spacingAndGlyphs" xml:space="preserve">Feb 1</text><text x="450.20" y="367.00" font-size="14.4" fill="#000" textLength="30.60" lengthAdjust="spacingAndGlyphs" xml:space="preserve">0:00</text><text x="441.40" y="379.00" font-size="14.4" fill="#000" textLength="40.40" lengthAdjust="spacingAndGlyphs" xml:space="preserve">Feb 2</text><text x="5.40" y="396.00" font-size="14.4" fill="#000" textLength="73.40" lengthAdjust="spacingAndGlyphs" xml:space="preserve">Plot: CCMC</text><text x="237.40" y="396.00" font-size="14.4" fill="#000" textLength="97.40" lengthAdjust="spacingAndGlyphs" xml:space="preserve">Date and Time</text><text x="444.20" y="396.00" font-size="13.2" fill="#000" textLength="136.60" lengthAdjust="spacingAndGlyphs" xml:space="preserve">2015/02/02 08:00:20</text><text x="525.40" y="57.00" font-size="13.2" fill="#000" textLength="61.40" lengthAdjust="spacingAndGlyphs" xml:space="preserve">METP–02</text><text x="525.40" y="79.00" font-size="14.4" fill="#0000ff" textLength="61.40" lengthAdjust="spacingAndGlyphs" xml:space="preserve">NOAA–15</text><text x="525.40" y="100.00" font-size="14.4" fill="#00b4ff" textLength="61.40" lengthAdjust="spacingAndGlyphs" xml:space="preserve">NOAA–16</text><text x="525.40" y="122.00" font-size="14.4" fill="#1ef03c" textLength="61.40" lengthAdjust="spacingAndGlyphs" xml:space="preserve">NOAA–18</text><text x="526.20" y="143.00" font-size="14.4" fill="#ff8000" textLength="60.60" lengthAdjust="spacingAndGlyphs" xml:space="preserve">NOAA–19</text><text x="543.20" y="312.00" font-size="14.4" fill="#000" textLength="35.60" lengthAdjust="spacingAndGlyphs" xml:space="preserve">south</text><text x="539.20" y="342.00" font-size="13.2" fill="#000" textLength="33.60" lengthAdjust="spacingAndGlyphs" xml:space="preserve">north</text><text x="547.20" y="220.00" font-size="14.4" fill="#0038ff" textLength="48.60" lengthAdjust="spacingAndGlyphs" xml:space="preserve">Ovation</text><text x="525.40" y="232.00" font-size="14.4" fill="#0038ff" textLength="66.20" lengthAdjust="spacingAndGlyphs" xml:space="preserve">Prime HPI</text><text transform="translate(11.2,212.2) rotate(-90)" font-size="14.4" textLength="45.3" lengthAdjust="spacingAndGlyphs" fill="#000" xml:space="preserve">P [GW]</text></g>
</svg>
</body></html>
